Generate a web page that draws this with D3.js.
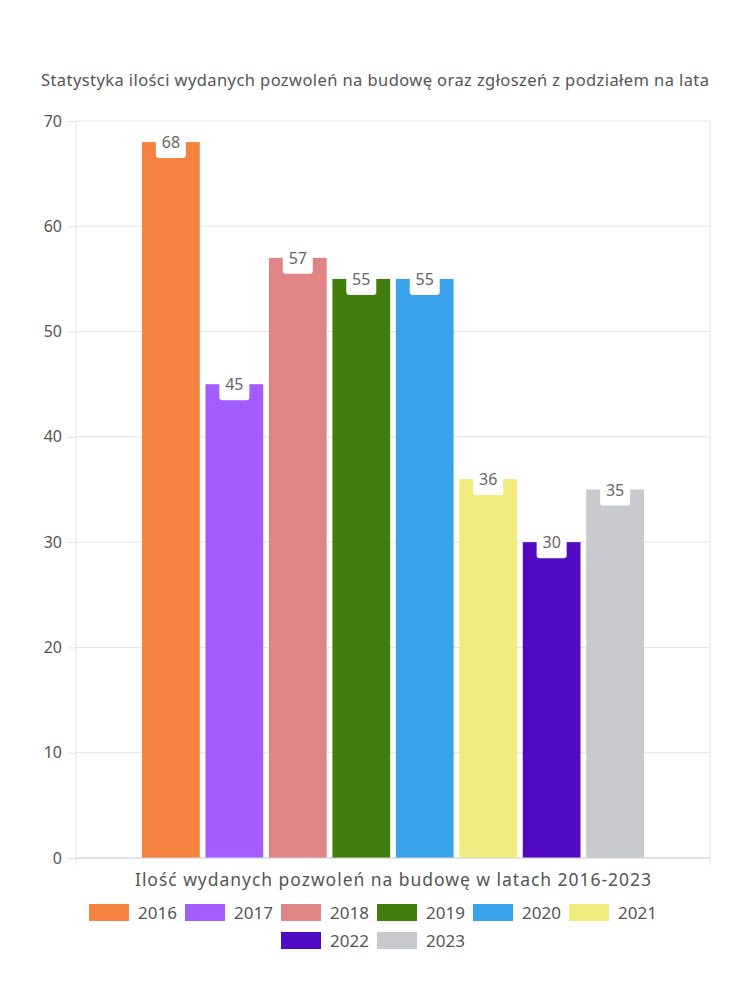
<!DOCTYPE html>
<html><head><meta charset="utf-8">
<script src="https://cdn.jsdelivr.net/npm/d3@7"></script>
<style>body{margin:0;background:#fff;}svg{display:block;font-family:"Noto Sans",Lato,sans-serif;}</style>
</head><body>
<svg id="c" width="750" height="1000"></svg>
<script>
const categories = ["Ilość wydanych pozwoleń na budowę w latach 2016-2023"];
const series = ["2016","2017","2018","2019","2020","2021","2022","2023"];
const values = [68,45,57,55,55,36,30,35];
const colors = ["#f48342","#a35cfd","#e08585","#3f7d0c","#38a3ea","#f0ec7f","#520bc2","#c9cace"];
const yTicks = [0,10,20,30,40,50,60,70];
const title = "Statystyka ilości wydanych pozwoleń na budowę oraz zgłoszeń z podziałem na lata";

const svg = d3.select("#c");
const m = {l:76, r:710, t:121, b:858};
const y = d3.scaleLinear().domain([0,70]).range([m.b,m.t]);
const x0 = d3.scaleBand().domain(categories).range([m.l,m.r]).paddingInner(0).paddingOuter(0.1315);
const x1 = d3.scaleBand().domain(series).range([0,x0.bandwidth()]).paddingInner(0.09);

svg.append("text").attr("x",375).attr("y",86).attr("text-anchor","middle")
  .attr("fill","#555").attr("font-size",16.5).attr("textLength",668).attr("lengthAdjust","spacing").text(title);

// grid
svg.append("g").selectAll("line").data(yTicks).join("line")
  .attr("x1",m.l).attr("x2",m.r).attr("y1",d=>y(d)).attr("y2",d=>y(d))
  .attr("stroke","#e3e3e3");
svg.append("line").attr("x1",m.r).attr("x2",m.r).attr("y1",m.t).attr("y2",m.b+7).attr("stroke","#e3e3e3");
svg.append("line").attr("x1",m.l).attr("x2",m.l).attr("y1",m.t).attr("y2",m.b+7).attr("stroke","#e3e3e3");

const ya = svg.append("g").attr("transform",`translate(${m.l},0)`)
  .call(d3.axisLeft(y).tickValues(yTicks).tickSize(8).tickPadding(6).tickFormat(d3.format("d")));
ya.select(".domain").remove();
ya.selectAll("line").attr("stroke","#e3e3e3");
ya.selectAll("text").attr("fill","#555").attr("font-size",16).attr("font-family","'Noto Sans',sans-serif");

const g = svg.append("g").attr("transform",`translate(${x0(categories[0])},0)`);
g.selectAll("rect").data(values).join("rect")
  .attr("x",(d,i)=>x1(series[i])).attr("width",x1.bandwidth())
  .attr("y",d=>y(d)).attr("height",d=>m.b-y(d)).attr("fill",(d,i)=>colors[i]);

// labels
const lab = g.selectAll("g.lab").data(values).join("g").attr("class","lab")
  .attr("transform",(d,i)=>`translate(${x1(series[i])+x1.bandwidth()/2},${y(d)})`);
lab.append("rect").attr("x",-15).attr("y",-4).attr("width",30).attr("height",20).attr("rx",3).attr("fill","#fff");
lab.append("text").attr("text-anchor","middle").attr("y",6).attr("fill","#666").attr("font-size",16).text(d=>d);

// x axis
svg.append("line").attr("x1",m.l).attr("x2",m.r).attr("y1",m.b).attr("y2",m.b).attr("stroke","#d6d6d6");
svg.append("text").attr("x",x0(categories[0])+x0.bandwidth()/2).attr("y",886).attr("text-anchor","middle")
  .attr("fill","#555").attr("font-size",17.5).attr("textLength",516).attr("lengthAdjust","spacing").text(categories[0]);

// legend
const rows = [series.slice(0,6), series.slice(6)];
const itemW = 96;
rows.forEach((row,r)=>{
  const startX = 375 - row.length*itemW/2 + 2;
  row.forEach((s,j)=>{
    const i = series.indexOf(s);
    const gx = startX + j*itemW, gy = 904 + r*28;
    svg.append("rect").attr("x",gx).attr("y",gy).attr("width",40).attr("height",17).attr("fill",colors[i]);
    svg.append("text").attr("x",gx+49).attr("y",gy+14.5).attr("fill","#555").attr("font-size",17).text(s);
  });
});
</script></body></html>
